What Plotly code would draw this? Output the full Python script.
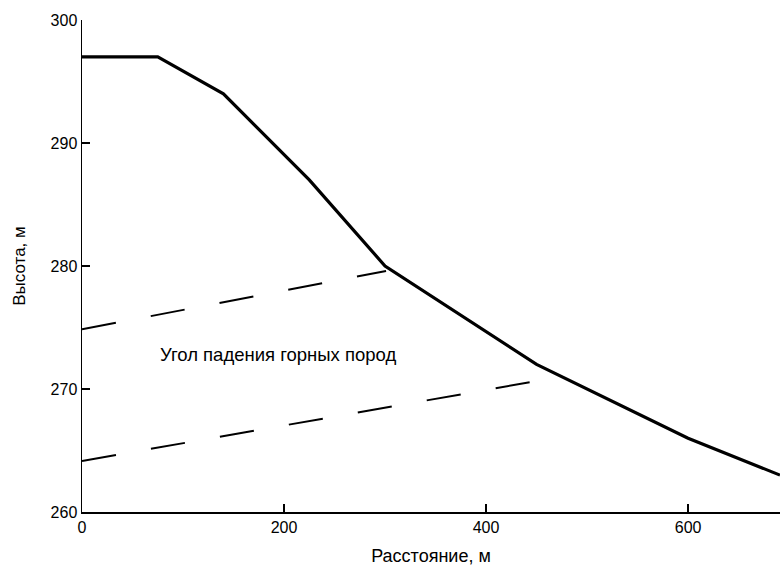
import plotly.graph_objects as go

# Surface profile
profile_x = [0, 75, 140, 225, 300, 450, 600, 691]
profile_y = [297, 297, 294, 287, 280, 272, 266, 263]

# Dip lines of rock beds
dip1_x = [0, 301]
dip1_y = [274.85, 279.6]
dip2_x = [0, 447]
dip2_y = [264.15, 270.6]

x_ticks = [0, 200, 400, 600]
y_ticks = [260, 270, 280, 290, 300]

label_text = "Угол падения горных пород"
x_title = "Расстояние, м"
y_title = "Высота, м"

fig = go.Figure()
fig.add_trace(go.Scatter(x=profile_x, y=profile_y, mode="lines",
                         line=dict(color="black", width=3.2), showlegend=False))
fig.add_trace(go.Scatter(x=dip1_x, y=dip1_y, mode="lines",
                         line=dict(color="black", width=2, dash="34.5px,35.5px"), showlegend=False))
fig.add_trace(go.Scatter(x=dip2_x, y=dip2_y, mode="lines",
                         line=dict(color="black", width=2, dash="34.5px,35.5px"), showlegend=False))

fig.add_annotation(x=194, y=272.8, text=label_text, showarrow=False,
                   font=dict(size=18.5, color="black"))

axis_common = dict(showgrid=False, zeroline=False, showline=True, linecolor="black",
                   linewidth=1.5, ticks="inside", ticklen=8, tickcolor="black", tickwidth=1.5,
                   tickfont=dict(size=16, color="black"))

fig.update_xaxes(range=[0, 691], tickvals=x_ticks, **axis_common,
                 title=dict(text=x_title, font=dict(size=18, color="black"), standoff=16))
fig.update_yaxes(range=[260, 300], tickvals=y_ticks, **axis_common,
                 title=dict(text=y_title, font=dict(size=17, color="black"), standoff=20))

fig.update_layout(width=780, height=566, margin=dict(l=82, r=0, t=20, b=54),
                  plot_bgcolor="white", paper_bgcolor="white",
                  font=dict(family="Liberation Sans, Arial", color="black"))

fig.write_html("out.html", config={"displayModeBar": False, "staticPlot": True},
               post_script="document.body.style.margin='0';document.body.style.overflow='hidden';")
